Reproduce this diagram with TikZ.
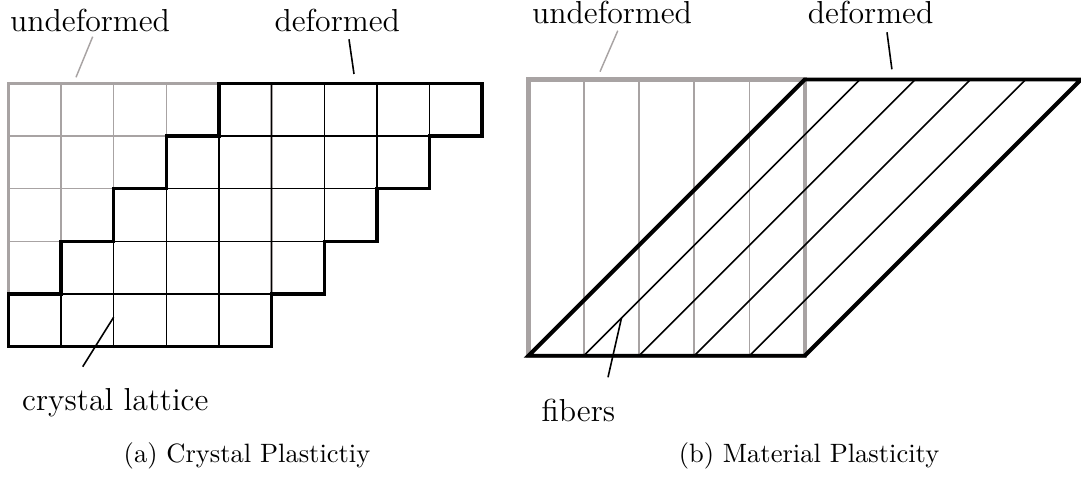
\documentclass[tikz,border=0pt]{standalone}
\usepackage{tikz}
\definecolor{undef}{RGB}{168,163,163}
\begin{document}
\begin{tikzpicture}[x=0.37736pt,y=-0.37736pt,
  lbl/.style={font=\large, inner sep=0pt, anchor=base west},
  captxt/.style={font=\normalsize, inner sep=0pt, anchor=base},
  gthick/.style={draw=undef, line width=1.2pt},
  gthin/.style={draw=undef, line width=0.5pt},
  bthick/.style={draw=black, line width=1.25pt},
  bthin/.style={draw=black, line width=0.5pt},
  gthickR/.style={draw=undef, line width=1.6pt},
  gthinR/.style={draw=undef, line width=0.7pt},
  bthickR/.style={draw=black, line width=1.5pt},
  bthinR/.style={draw=black, line width=0.6pt},
  leadg/.style={draw=undef, line width=0.55pt},
  leadb/.style={draw=black, line width=0.6pt}]
\useasboundingbox (0,0) rectangle (1081,479);

% ---------- (a) crystal plasticity ----------
\begin{scope}[shift={(8.3,83.3)}, x=19.868pt, y=-19.868pt]
  \foreach \i in {1,...,4} {
    \draw[gthin] (\i,0) -- (\i,5);
    \draw[gthin] (0,\i) -- (5,\i);
  }
  \draw[gthick] (0,0) rectangle (5,5);
  \foreach \r in {0,...,4} {
    \foreach \c in {0,...,4} {
      \draw[bthin] ({4-\r+\c},\r) rectangle ++(1,1);
    }
  }
  \draw[bthick, line join=miter] (4,0) -- (9,0) -- (9,1) -- (8,1) -- (8,2) -- (7,2) -- (7,3)
    -- (6,3) -- (6,4) -- (5,4) -- (5,5) -- (0,5) -- (0,4) -- (1,4) -- (1,3)
    -- (2,3) -- (2,2) -- (3,2) -- (3,1) -- (4,1) -- cycle;
\end{scope}

\node[lbl] (undefA) at (9.5,31.7) {undeformed};
\node[lbl] (defA) at (274,31.7) {deformed};
\node[lbl] (latt) at (21.7,410.5) {crystal lattice};
\node[captxt] (capA) at (247,463) {(a) Crystal Plastictiy};

\coordinate (uA1) at (92.7,36.7);
\coordinate (uA2) at (76,77.3);
\coordinate (dA1) at (349,39.3);
\coordinate (dA2) at (354,74);
\coordinate (lA1) at (113.6,317.3);
\coordinate (lA2) at (82.7,366.7);
\draw[leadg] (uA1) -- (uA2);
\draw[leadb] (dA1) -- (dA2);
\draw[leadb] (lA1) -- (lA2);

% ---------- (b) material plasticity ----------
\begin{scope}[shift={(528.5,79.5)}, x=20.849pt, y=-20.849pt]
  \foreach \i in {1,...,4} {
    \draw[gthinR] (\i,0) -- (\i,5);
  }
  \draw[gthickR] (0,0) rectangle (5,5);
  \foreach \k in {1,...,4} {
    \draw[bthinR] (\k,5) -- ({\k+5},0);
  }
  \draw[bthickR, line join=miter] (0,5) -- (5,5) -- (10,0) -- (5,0) -- cycle;
\end{scope}

\node[lbl] (undefB) at (531.5,24) {undeformed};
\node[lbl] (defB) at (807.4,24) {deformed};
\node[lbl] (fib) at (541,421.7) {fibers};
\node[captxt] (capB) at (809,463) {(b) Material Plasticity};

\coordinate (uB1) at (617.8,30.7);
\coordinate (uB2) at (600,71.7);
\coordinate (dB1) at (887,32.3);
\coordinate (dB2) at (891.9,69.3);
\coordinate (fB1) at (621.5,318);
\coordinate (fB2) at (608,377.3);
\draw[leadg] (uB1) -- (uB2);
\draw[leadb] (dB1) -- (dB2);
\draw[leadb] (fB1) -- (fB2);
\end{tikzpicture}
\end{document}
